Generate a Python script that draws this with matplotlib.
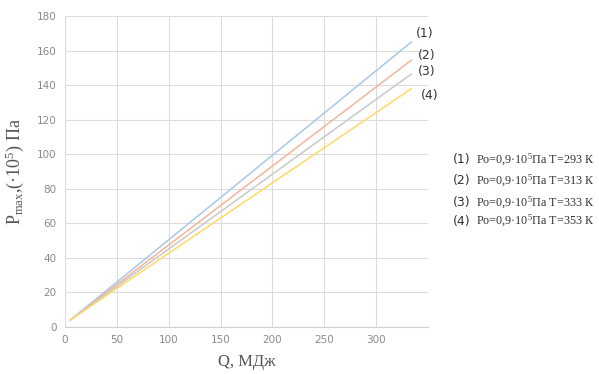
import matplotlib
matplotlib.use("Agg")
import matplotlib.pyplot as plt

plt.rcParams['mathtext.fontset'] = 'custom'
plt.rcParams['mathtext.rm'] = 'Liberation Serif'
plt.rcParams['mathtext.it'] = 'Liberation Serif:italic'

Q = [5, 334]
P1 = [4, 165]
P2 = [4, 154.5]
P3 = [4, 146.5]
P4 = [4, 138]
series = [P1, P2, P3, P4]
line_labels = ["(1)", "(2)", "(3)", "(4)"]
colors = ["#a9c8e6", "#f3b49a", "#c9c9c9", "#ffd966"]
temps = ["293", "313", "333", "353"]
xticks = [0, 50, 100, 150, 200, 250, 300]
yticks = [0, 20, 40, 60, 80, 100, 120, 140, 160, 180]

fig = plt.figure(figsize=(5.99, 3.74), dpi=100)
ax = fig.add_axes([0.1085, 0.1257, 0.606, 0.8313])
for ys, c in zip(series, colors):
    ax.plot(Q, ys, color=c, lw=1.1, solid_capstyle='round')

ax.set_xlim(0, 350)
ax.set_ylim(0, 180)
ax.set_xticks(xticks)
ax.set_yticks(yticks)
ax.grid(True, color="#dcdcdc", lw=0.8)
ax.set_axisbelow(True)
for s in ['top', 'right', 'left']:
    ax.spines[s].set_visible(False)
ax.spines['bottom'].set_color('#d0d0d0')
ax.tick_params(length=0, labelsize=7.5, labelcolor='#8a8a8a', pad=6)

# labels at line ends
lab_pos = [(338, 170), (340, 157), (340, 148), (343, 134.3)]
for (x, y), t in zip(lab_pos, line_labels):
    ax.text(x, y, t, fontsize=9, color='#333333', ha='left', va='center',
            clip_on=False)

ax.set_xlabel("Q, МДж", fontfamily='Liberation Serif', fontsize=12,
              color='#555555', labelpad=6)
ax.set_ylabel("P$_{\\rm max}$,(·10$^5$) Па", fontfamily='Liberation Serif',
              fontsize=13, color='#555555', labelpad=8)

# side legend
ly = [160, 181, 203, 221]
for y, lab, T in zip(ly, line_labels, temps):
    fig.text(453 / 599, 1 - y / 374, lab, fontsize=9, color='#333333',
             va='center', ha='left')
    fig.text(476 / 599, 1 - y / 374,
             "Pо=0,9·10$^5$Па T=" + T + " К",
             fontfamily=['Liberation Serif', 'DejaVu Serif'], fontsize=8.7,
             color='#333333', va='center', ha='left')

fig.savefig("out.png", dpi=100)
